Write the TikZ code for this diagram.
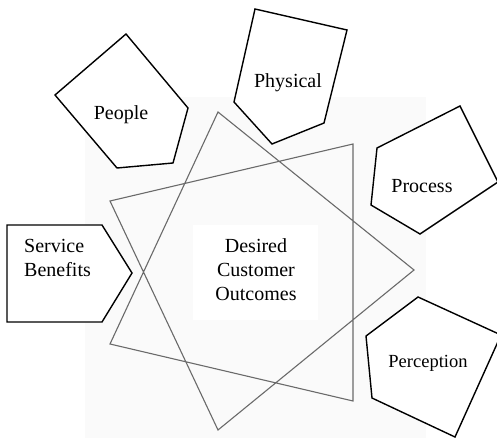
\documentclass[tikz,border=0pt]{standalone}
\usepackage{fontspec}
\setmainfont{Liberation Serif}
\definecolor{bgpale}{HTML}{FAFAFA}
\definecolor{starline}{HTML}{6A6A6A}
\tikzset{
  pent/.style={draw=black, line width=1.4pt, fill=white, line join=miter},
  starpath/.style={draw=starline, line width=1.1pt, line join=miter},
  lbl/.style={inner sep=0pt, font=\fontsize{20}{24}\selectfont},
}
\begin{document}
\begin{tikzpicture}[x=1pt,y=-1pt]
\useasboundingbox (0,0) rectangle (497,438);
\begin{scope}
\clip (0,0) rectangle (497,438);
% background panel
\fill[bgpale] (85,97) rectangle (426,438);
\fill[white] (193,225) rectangle (318,320);
% star outline
\draw[starpath] (110,201) -- (353,144) -- (353,401) -- (110,344) -- (218,112) -- (414,270) -- (218,430) -- cycle;
% pentagons
\draw[pent] (126,34) -- (188,108) -- (173,163) -- (117,168) -- (55,95) -- cycle;
\draw[pent] (255,9) -- (347,30) -- (324,123) -- (272,144) -- (234,102) -- cycle;
\draw[pent] (460,106) -- (498,182) -- (420,234) -- (371,205) -- (377,148) -- cycle;
\draw[pent] (418,297) -- (501,335) -- (455,437) -- (372,398) -- (366,336) -- cycle;
\draw[pent] (7,225) -- (102,225) -- (132,273) -- (102,322) -- (7,322) -- cycle;
\end{scope}
% labels
\node[lbl, anchor=base] (people) at (121,120) {People};
\node[lbl, anchor=base] (physical) at (288,88) {Physical};
\node[lbl, anchor=base] (process) at (422,193) {Process};
\node[lbl, anchor=base, font=\fontsize{18.5}{22}\selectfont] (perception) at (428,367) {Perception};
\node[lbl, anchor=base west, align=left] (service) at (24,276) {Service\\Benefits};
\node[lbl, anchor=base, align=center] (outcomes) at (256,300) {Desired\\Customer\\Outcomes};
\end{tikzpicture}
\end{document}
